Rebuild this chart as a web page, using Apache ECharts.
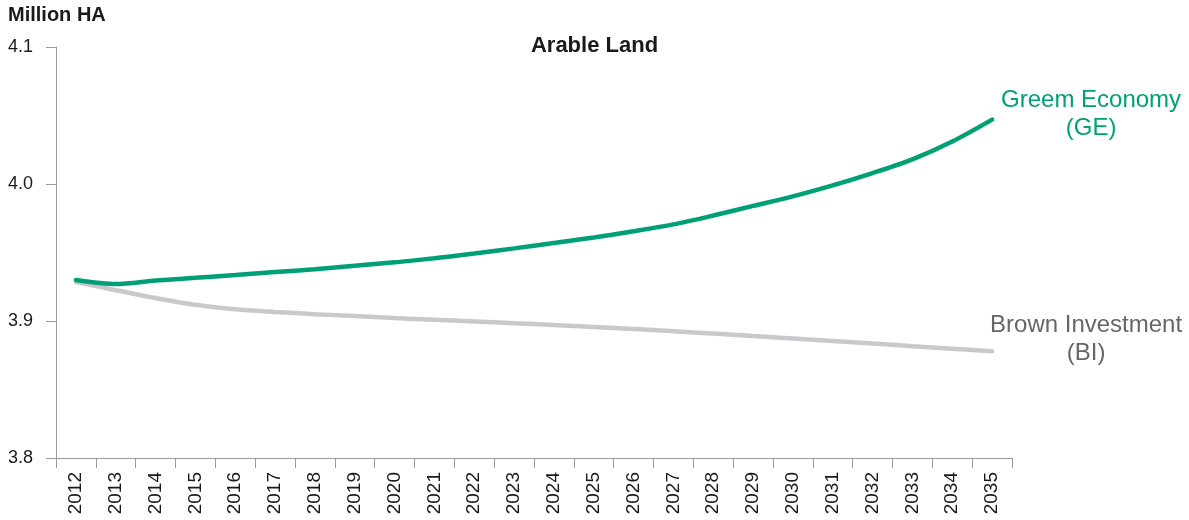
<!DOCTYPE html>
<html>
<head>
<meta charset="utf-8">
<script src="https://cdn.jsdelivr.net/npm/echarts@6/dist/echarts.min.js"></script>
<style>html,body{margin:0;padding:0;background:#fff}#c{width:1189px;height:520px}</style>
</head>
<body>
<div id="c"></div>
<script>
const years = ['2012','2013','2014','2015','2016','2017','2018','2019','2020','2021','2022','2023','2024','2025','2026','2027','2028','2029','2030','2031','2032','2033','2034','2035'];
const greenEconomy = [3.930,3.927,3.9295,3.9315,3.9335,3.9357,3.9378,3.9403,3.9428,3.9458,3.9492,3.953,3.957,3.961,3.9655,3.9705,3.977,3.984,3.991,3.999,4.008,4.018,4.031,4.047];
const brownInvestment = [3.9285,3.9225,3.9168,3.9118,3.9085,3.9066,3.905,3.9036,3.9022,3.9009,3.8997,3.8984,3.8971,3.8957,3.8942,3.8925,3.8908,3.889,3.8872,3.8854,3.8836,3.8816,3.8798,3.878];
const yTicks = [3.8, 3.9, 4.0, 4.1];

const GREEN = '#00a077', GRAY = '#c8c9cb';
const chart = echarts.init(document.getElementById('c'), null, {renderer: 'canvas'});
chart.setOption({
  animation: false,
  backgroundColor: '#fff',
  title: [
    {text: 'Arable Land', left: 'center', top: 35, padding: 0,
     textStyle: {fontFamily: 'Liberation Sans', fontWeight: 'bold', fontSize: 22, color: '#1a1a1a'}},
    {text: 'Million HA', left: 8, top: 5, padding: 0,
     textStyle: {fontFamily: 'Liberation Sans', fontWeight: 'bold', fontSize: 20, color: '#1a1a1a'}}
  ],
  grid: {left: 56, right: 177, top: 47, bottom: 62, containLabel: false},
  xAxis: {
    type: 'category', data: years, boundaryGap: true,
    axisLine: {lineStyle: {color: '#999', width: 1}},
    axisTick: {show: true, length: 10, interval: 0, lineStyle: {color: '#999'}},
    axisLabel: {rotate: 90, interval: 0, margin: 14, fontFamily: 'Liberation Sans', fontSize: 19, color: '#1a1a1a'}
  },
  yAxis: {
    type: 'value', min: 3.8, max: 4.1, interval: 0.1,
    splitLine: {show: false},
    axisLine: {show: true, lineStyle: {color: '#999', width: 1}},
    axisTick: {show: true, length: 10, lineStyle: {color: '#999'}},
    axisLabel: {margin: 23, fontFamily: 'Liberation Sans', fontSize: 18, color: '#1a1a1a',
      formatter: v => yTicks.includes(Math.round(v*10)/10) ? v.toFixed(1) : ''}
  },
  series: [
    {name: 'Brown Investment', type: 'line', data: brownInvestment, showSymbol: false, symbol: 'none', smooth: 0.3,
     lineStyle: {color: GRAY, width: 4.5, cap: 'round'}, itemStyle: {color: GRAY},
     endLabel: {show: true, formatter: 'Brown Investment\n(BI)', align: 'center', verticalAlign: 'middle',
       offset: [86, -12], fontFamily: 'Liberation Sans', fontSize: 24, lineHeight: 28, color: '#666'}},
    {name: 'Greem Economy', type: 'line', data: greenEconomy, showSymbol: false, symbol: 'none', smooth: 0.3,
     lineStyle: {color: GREEN, width: 4.5, cap: 'round'}, itemStyle: {color: GREEN},
     endLabel: {show: true, formatter: 'Greem Economy\n(GE)', align: 'center', verticalAlign: 'middle',
       offset: [91, -5], fontFamily: 'Liberation Sans', fontSize: 24, lineHeight: 28, color: GREEN}}
  ]
});
</script>
</body>
</html>
